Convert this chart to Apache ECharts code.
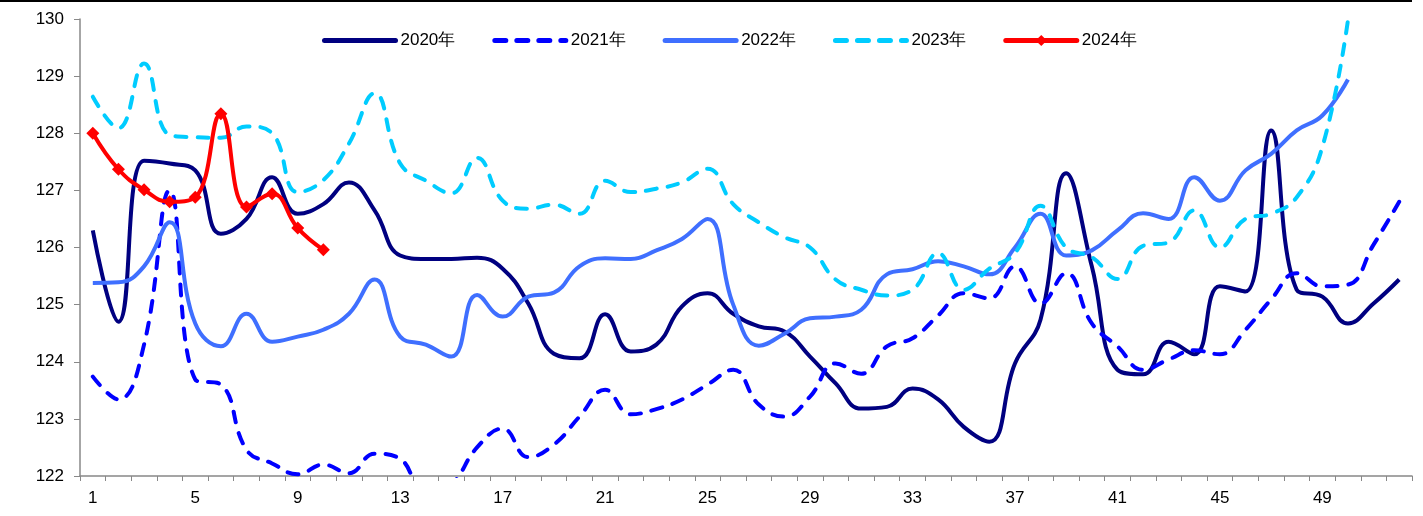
<!DOCTYPE html>
<html>
<head>
<meta charset="utf-8">
<script src="https://cdn.jsdelivr.net/npm/echarts@6/dist/echarts.min.js"></script>
<style>
html,body{margin:0;padding:0;background:#fff;}
#chart{width:1423px;height:516px;}
</style>
</head>
<body>
<div id="chart"></div>
<script>
const weeks = Array.from({length: 52}, (_, i) => String(i + 1));
const seriesNames = ['2020年', '2021年', '2022年', '2023年', '2024年'];

const y2020 = [126.3,124.7,127.52,127.47,127.35,126.24,126.5,127.23,126.59,126.76,
  127.14,126.65,125.86,125.8,125.8,125.82,125.63,125.02,124.14,124.06,
  124.83,124.18,124.3,124.97,125.2,124.84,124.62,124.53,124.09,123.62,
  123.18,123.21,123.53,123.34,122.86,122.6,123.97,124.74,127.3,125.67,
  123.86,123.78,124.35,124.13,125.32,125.23,128.05,125.26,125.14,124.67,
  125.02,125.44];
const y2021 = [123.74,123.34,124.3,127.0,123.69,123.6,122.46,122.22,122.03,122.2,
  122.05,122.39,122.3,121.65,121.85,122.5,122.83,122.33,122.55,123.04,
  123.51,123.08,123.17,123.34,123.6,123.86,123.25,123.04,123.39,123.97,
  123.79,124.27,124.41,124.81,125.2,125.11,125.67,125.02,125.55,124.67,
  124.27,123.86,124.04,124.2,124.13,124.56,125.09,125.55,125.32,125.35,
  126.05,126.8];
const y2022 = [125.38,125.39,125.67,126.44,124.67,124.27,124.84,124.35,124.44,124.56,
  124.84,125.44,124.44,124.3,124.09,125.17,124.79,125.14,125.21,125.67,
  125.81,125.8,125.95,126.15,126.5,125.0,124.28,124.49,124.76,124.79,
  124.91,125.53,125.62,125.76,125.67,125.53,126.0,126.59,125.86,125.95,
  126.3,126.6,126.5,127.23,126.82,127.35,127.64,128.05,128.31,128.94];
const y2023 = [128.64,128.09,129.22,127.97,127.93,127.92,128.12,128.0,126.97,127.18,
  127.82,128.7,127.47,127.17,126.95,127.57,126.82,126.68,126.75,126.59,
  127.17,126.97,127.03,127.14,127.38,126.76,126.44,126.18,126.0,125.44,
  125.26,125.16,125.26,125.9,125.26,125.63,125.9,126.73,126.0,125.83,
  125.45,126.03,126.09,126.65,126.0,126.5,126.59,126.88,127.76,129.98];
const y2024 = [128.0,127.37,127.01,126.8,126.88,128.34,126.71,126.94,126.34,125.96];

const yTicks = {min: 122, max: 130, interval: 1};

const colors = ['#000080', '#0000FF', '#3F6FFF', '#00CCFF', '#FF0000'];
const dataSets = [y2020, y2021, y2022, y2023, y2024];
const dashed = [false, true, false, true, false];
const FONT = 'Liberation Sans, Arial, sans-serif';

const chart = echarts.init(document.getElementById('chart'));
const series = dataSets.map((d, i) => ({
  name: seriesNames[i],
  type: 'line',
  data: d,
  smooth: 0.45,
  symbol: i === 4 ? 'diamond' : 'none',
  symbolSize: 13,
  showSymbol: i === 4,
  itemStyle: {color: colors[i]},
  lineStyle: {
    color: colors[i],
    width: 4,
    type: dashed[i] ? [11, 11] : 'solid',
    cap: dashed[i] ? 'round' : 'butt'
  },
  z: 2 + i,
  animation: false
}));

const legendData = seriesNames.map((n, i) => ({
  name: n,
  itemStyle: i === 4 ? {color: colors[i]} : {opacity: 0, borderWidth: 0},
  lineStyle: {width: 5, color: colors[i], type: dashed[i] ? [11, 11] : 'solid', cap: 'round'}
}));

chart.setOption({
  animation: false,
  backgroundColor: '#fff',
  textStyle: {fontFamily: FONT},
  graphic: [{
    type: 'rect', left: 0, top: 0,
    shape: {width: 1412, height: 2},
    style: {fill: '#000'}
  }],
  legend: {
    top: 32,
    left: 322,
    padding: 0,
    itemWidth: 71,
    itemHeight: 14,
    itemGap: 37,
    textStyle: {fontSize: 17, color: '#000', fontFamily: FONT},
    data: legendData
  },
  grid: {left: 80, right: 11, top: 19, bottom: 40, containLabel: false},
  xAxis: {
    type: 'category',
    data: weeks,
    boundaryGap: true,
    axisLine: {lineStyle: {color: '#888', width: 1.5}},
    axisTick: {show: true, interval: 0, length: 5, lineStyle: {color: '#888'}},
    axisLabel: {interval: 3, fontSize: 17, color: '#000', margin: 14},
    splitLine: {show: false}
  },
  yAxis: {
    type: 'value',
    min: yTicks.min, max: yTicks.max, interval: yTicks.interval,
    axisLine: {show: true, lineStyle: {color: '#888', width: 1.5}},
    axisTick: {show: true, length: 6, lineStyle: {color: '#888'}},
    axisLabel: {fontSize: 17, color: '#000', margin: 16},
    splitLine: {show: false}
  },
  series: series
});
</script>
</body>
</html>
